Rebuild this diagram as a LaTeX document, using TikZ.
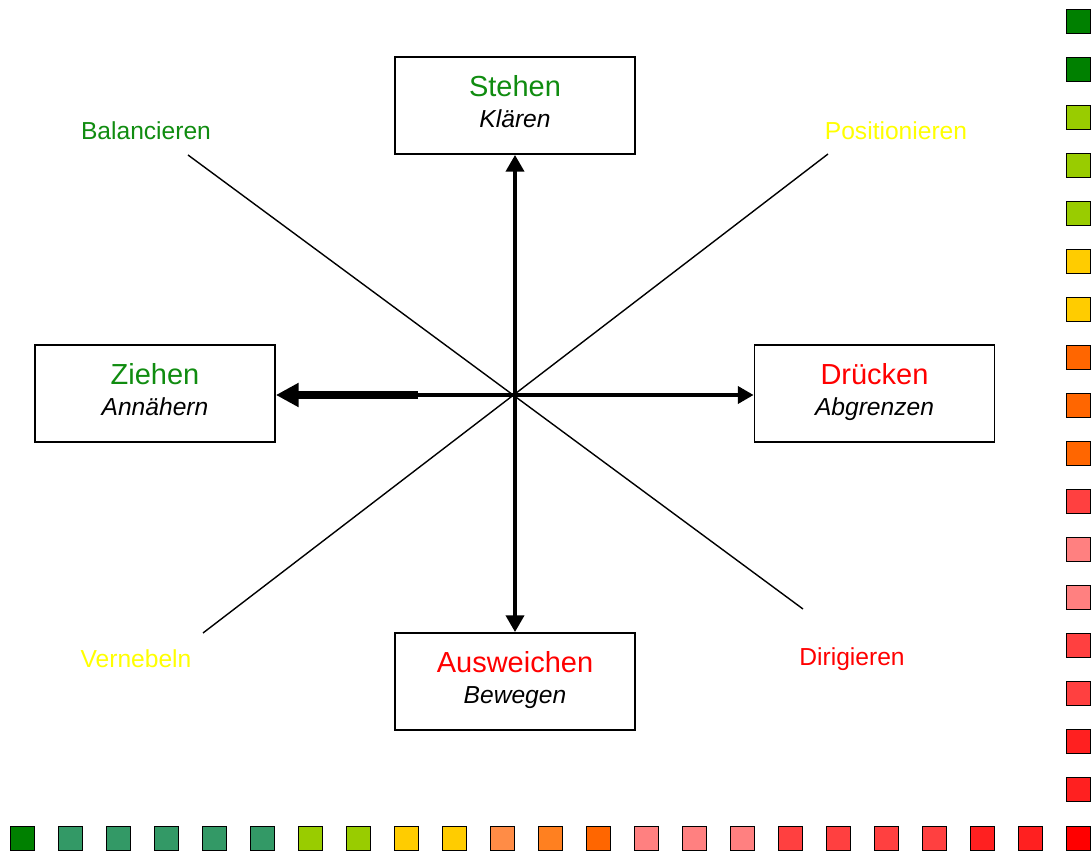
\documentclass[tikz,border=0pt]{standalone}
\usepackage{fontspec}
\setmainfont{Liberation Sans}
\usetikzlibrary{arrows.meta}

\definecolor{tgreen}{RGB}{16,140,16}
\definecolor{tyellow}{RGB}{255,255,0}
\definecolor{tred}{RGB}{255,0,0}
\definecolor{cgreen}{HTML}{008000}
\definecolor{csea}{HTML}{339966}
\definecolor{clime}{HTML}{99CC00}
\definecolor{cgold}{HTML}{FFCC00}
\definecolor{corange}{HTML}{FF6600}
\definecolor{clorange}{HTML}{FF8C46}
\definecolor{cmorange}{HTML}{FF8020}
\definecolor{cpink}{HTML}{FF8080}
\definecolor{cred}{HTML}{FF4040}
\definecolor{cdred}{HTML}{FF2020}
\definecolor{cpure}{HTML}{FF0000}

\tikzset{
  modebox/.style={draw, line width=1pt, minimum width=4.8cm, minimum height=1.94cm,
    align=center, font=\fontsize{14}{17.6}\selectfont},
  corner/.style={font=\fontsize{14}{16}\selectfont},
  sq/.style={draw, line width=1pt, minimum size=0.48cm, inner sep=0pt},
  axis/.style={line width=2.8pt},
}
\newcommand{\modetitle}[2]{{\fontsize{16.5}{17.6}\selectfont\color{#1}#2}}
\newcommand{\modesub}[1]{\textit{#1}\rule[-4.6pt]{0pt}{4.6pt}}

\begin{document}
\begin{tikzpicture}[x=0.02cm, y=-0.02cm]
  \useasboundingbox (0,0) rectangle (1091,854);

  \coordinate (c) at (515,395);
  \coordinate (nw) at (188,155);
  \coordinate (se) at (803,609);
  \coordinate (ne) at (828,154);
  \coordinate (sw) at (203,633);
  \coordinate (lft) at (418,395);

  % the four boxes
  \node[modebox] (steh) at (515,105.5) {\modetitle{tgreen}{Stehen}\\ \modesub{Klären}};
  \node[modebox] (zieh) at (155,393.5) {\modetitle{tgreen}{Ziehen}\\ \modesub{Annähern}};
  \node[modebox] (drue) at (874.5,393.5) {\modetitle{tred}{Drücken}\\ \modesub{Abgrenzen}};
  \node[modebox] (ausw) at (515,681.5) {\modetitle{tred}{Ausweichen}\\ \modesub{Bewegen}};

  % the diagonal labels
  \node[corner, text=tgreen] (bal) at (146,131) {Balancieren};
  \node[corner, text=tyellow] (pos) at (896,131) {Positionieren};
  \node[corner, text=tyellow] (ver) at (136,659) {Vernebeln};
  \node[corner, text=tred] (dir) at (852,659) {Dirigieren};

  % diagonals
  \draw[line width=0.8pt] (nw) -- (se);
  \draw[line width=0.8pt] (ne) -- (sw);

  % arrows
  \draw[axis, -{Triangle[length=9.6pt, width=10.2pt]}] (c) -- (steh.south);
  \draw[axis, -{Triangle[length=9.6pt, width=10.2pt]}] (c) -- (ausw.north);
  \draw[line width=2.3pt, -{Triangle[length=9pt, width=9.6pt]}] (c) -- (c -| drue.west);
  \draw[axis] (c) -- (lft);
  \draw[line width=4pt, -{Triangle[length=13pt, width=13pt]}] (lft) -- (c -| zieh.east);

  % colour squares along the bottom
  \foreach \col [count=\i from 0] in {cgreen,csea,csea,csea,csea,csea,clime,clime,cgold,cgold,
      clorange,cmorange,corange,cpink,cpink,cpink,cred,cred,cred,cred,cdred,cdred,cpure} {
    \node[sq, fill=\col] (b\i) at ({22.5+48*\i},838.5) {};
  }
  % colour squares along the right side
  \foreach \col [count=\i from 0] in {cgreen,cgreen,clime,clime,clime,cgold,cgold,corange,corange,
      corange,cred,cpink,cpink,cred,cred,cdred,cdred} {
    \node[sq, fill=\col] (r\i) at (1078.5,{21.5+48*\i}) {};
  }
\end{tikzpicture}
\end{document}
